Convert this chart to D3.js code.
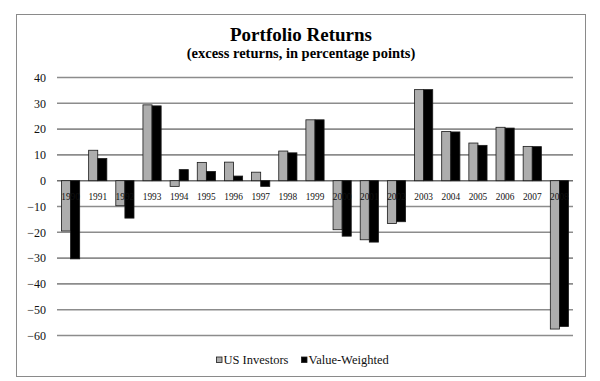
<!DOCTYPE html>
<html>
<head>
<meta charset="utf-8">
<script src="https://cdn.jsdelivr.net/npm/d3@7"></script>
<style>
  html, body { margin: 0; padding: 0; background: #fff; }
  svg { display: block; }
  svg text { font-family: "Liberation Serif", "Times New Roman", serif !important; }
</style>
</head>
<body>
<svg id="chart" width="600" height="381"></svg>
<script>
const years = ["1990","1991","1992","1993","1994","1995","1996","1997","1998","1999",
               "2000","2001","2002","2003","2004","2005","2006","2007","2008"];
const seriesNames = ["US Investors", "Value-Weighted"];
const usInvestors   = [-19.5, 11.8, -9.7, 29.4, -2.2, 7.1, 7.2, 3.3, 11.5, 23.6,
                       -19.0, -22.9, -16.6, 35.3, 19.1, 14.6, 20.7, 13.3, -57.5];
const valueWeighted = [-30.3, 8.6, -14.5, 29.0, 4.3, 3.6, 1.8, -2.2, 10.8, 23.6,
                       -21.5, -23.8, -15.9, 35.3, 18.9, 13.7, 20.4, 13.2, -56.5];
const yTicks = [40, 30, 20, 10, 0, -10, -20, -30, -40, -50, -60];
const seriesColors = ["#adadad", "#000000"];

const svg = d3.select("#chart");
const serif = "'Liberation Serif', 'Times New Roman', serif";

// outer frame
svg.append("rect").attr("x", 16.5).attr("y", 14.5).attr("width", 569).attr("height", 362)
  .attr("fill", "#fff").attr("stroke", "#8a8a8a").attr("stroke-width", 1);

// titles
svg.append("text").attr("x", 301).attr("y", 41).attr("text-anchor", "middle")
  .style("font-family", serif)
  .attr("font-size", 19).attr("font-weight", "bold").text("Portfolio Returns");
svg.append("text").attr("x", 301).attr("y", 58).attr("text-anchor", "middle")
  .style("font-family", serif)
  .attr("font-size", 14.5).attr("font-weight", "bold").text("(excess returns, in percentage points)");

const plotLeft = 57, plotRight = 573;
const y = d3.scaleLinear().domain([-60, 40]).range([335.5, 77.5]);
const x0 = d3.scaleBand().domain(years).range([plotLeft, plotRight])
  .paddingInner(0.33).paddingOuter(0.165);
const x1 = d3.scaleBand().domain(seriesNames).range([0, x0.bandwidth()]).padding(0);

// gridlines
svg.append("g").selectAll("line").data(yTicks).join("line")
  .attr("x1", plotLeft).attr("x2", plotRight)
  .attr("y1", d => y(d)).attr("y2", d => y(d))
  .attr("stroke", d => d === 0 ? "#6e6e6e" : "#8c8c8c").attr("stroke-width", 1.6);

// y axis labels
const yAxis = d3.axisLeft(y).tickValues(yTicks).tickSize(0).tickPadding(0)
  .tickFormat(d3.format("d"));
const gy = svg.append("g").attr("transform", "translate(46,0)").call(yAxis)
  .attr("font-family", serif);
gy.select(".domain").remove();
gy.selectAll("text").attr("font-size", 12).attr("fill", "#111").style("font-family", serif);

// bars
const rows = years.map((yr, i) => ({ year: yr, values: [usInvestors[i], valueWeighted[i]] }));
const groups = svg.append("g").selectAll("g").data(rows).join("g")
  .attr("transform", d => `translate(${x0(d.year)},0)`);
groups.selectAll("rect").data(d => d.values.map((v, k) => ({ v, k }))).join("rect")
  .attr("x", d => x1(seriesNames[d.k]))
  .attr("width", x1.bandwidth())
  .attr("y", d => Math.min(y(0), y(d.v)))
  .attr("height", d => Math.abs(y(d.v) - y(0)))
  .attr("fill", d => seriesColors[d.k])
  .attr("stroke", "#1a1a1a").attr("stroke-width", 0.8);

// category labels (drawn over bars, like the original)
const xAxis = d3.axisBottom(x0).tickSize(0).tickPadding(0);
const gx = svg.append("g").attr("transform", `translate(0,${y(0) + 19.5})`).call(xAxis)
  .attr("font-family", serif);
gx.select(".domain").remove();
gx.selectAll("text").attr("font-size", 9.3).attr("fill", "#111").attr("dy", 0)
  .style("font-family", serif);

// legend
const legend = svg.append("g");
const legendItems = [
  { name: seriesNames[0], color: seriesColors[0], x: 216.5 },
  { name: seriesNames[1], color: seriesColors[1], x: 301.5 }
];
legendItems.forEach(it => {
  legend.append("rect").attr("x", it.x).attr("y", 357).attr("width", 5.5).attr("height", 5.5)
    .attr("fill", it.color).attr("stroke", "#1a1a1a").attr("stroke-width", 0.8);
  legend.append("text").attr("x", it.x + 7).attr("y", 363.5).attr("font-size", 12.5)
    .style("font-family", serif)
    .attr("fill", "#111").text(it.name);
});
</script>
</body>
</html>
